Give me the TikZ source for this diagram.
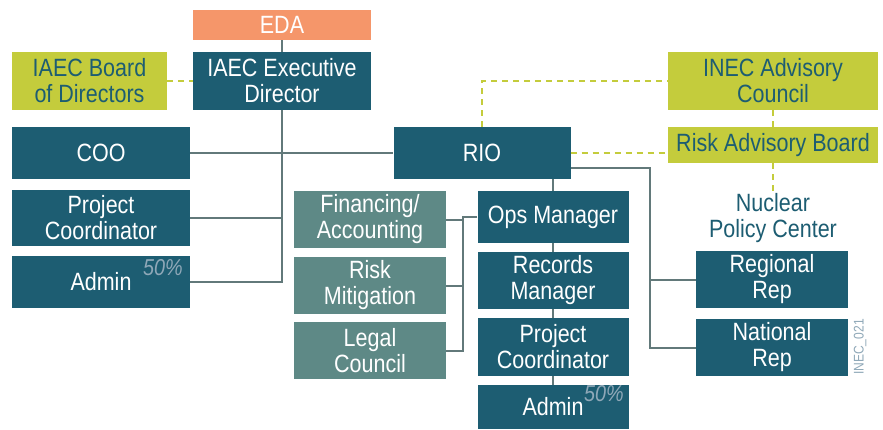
\documentclass[tikz,border=0pt]{standalone}
\usepackage{fontspec}
\setmainfont{Liberation Sans}[FakeStretch=0.86]
\usetikzlibrary{calc}

\definecolor{orgdark}{HTML}{1D5D72}
\definecolor{orggray}{HTML}{5E8986}
\definecolor{orglime}{HTML}{C4CC3C}
\definecolor{orgorange}{HTML}{F5966A}
\definecolor{orgline}{HTML}{62797A}
\definecolor{orgpale}{HTML}{8FA8B8}

\tikzset{
  unit/.style={rectangle, inner sep=0pt, align=center, text=white, font=\fontsize{25}{26}\selectfont},
  darkunit/.style={unit, fill=orgdark},
  grayunit/.style={unit, fill=orggray},
  limeunit/.style={unit, fill=orglime, text=orgdark},
  link/.style={draw=orgline, line width=2pt},
  advise/.style={draw=orglime, line width=1.8pt, dash pattern=on 6pt off 5pt},
  share/.style={font=\itshape\fontsize{23}{23}\selectfont, text=orgpale}
}

\begin{document}
\begin{tikzpicture}[x=1pt, y=-1pt]
        \fill[white] (0, 0) rectangle (883, 428);

        % Executive side
        \node[unit, fill=orgorange, minimum width=178pt, minimum height=30pt] (eda) at (282, 25) {EDA};
        \node[darkunit, minimum width=178pt, minimum height=58pt] (exec) at (282, 81) {IAEC Executive\\Director};
        \node[limeunit, minimum width=155pt, minimum height=58pt] (board) at (89.5, 81) {IAEC Board\\of Directors};
        \node[darkunit, minimum width=178pt, minimum height=52pt] (coo) at (101, 153) {COO};
        \node[darkunit, minimum width=178pt, minimum height=56pt] (pcl) at (101, 218) {Project\\Coordinator};
        \node[darkunit, minimum width=178pt, minimum height=52pt] (adminl) at (101, 282) {Admin};
        \node[share] (sharel) at (163, 268) {50\%};

        % RIO and staff
        \node[darkunit, minimum width=177pt, minimum height=52pt] (rio) at (482, 153) {RIO};
        \node[grayunit, minimum width=152pt, minimum height=57pt] (fin) at (370, 219.5) {Financing/\\Accounting};
        \node[grayunit, minimum width=152pt, minimum height=57pt] (risk) at (370, 285.5) {Risk\\Mitigation};
        \node[grayunit, minimum width=152pt, minimum height=57pt] (legal) at (370, 350.5) {Legal\\Council};
        \node[darkunit, minimum width=151pt, minimum height=52pt] (ops) at (553, 217) {Ops Manager};
        \node[darkunit, minimum width=151pt, minimum height=57pt] (rec) at (553, 280.5) {Records\\Manager};
        \node[darkunit, minimum width=151pt, minimum height=58pt] (pcr) at (553, 347) {Project\\Coordinator};
        \node[darkunit, minimum width=151pt, minimum height=44pt] (adminr) at (553, 407) {Admin};
        \node[share] (sharer) at (604, 394) {50\%};

        % Advisory and policy
        \node[limeunit, minimum width=210pt, minimum height=58pt] (iac) at (773, 81) {INEC Advisory\\Council};
        \node[limeunit, minimum width=210pt, minimum height=36pt] (rab) at (773, 145) {Risk Advisory Board};
        \node[unit, text=orgdark] (npc) at (773, 218) {Nuclear\\Policy Center};
        \node[darkunit, minimum width=152pt, minimum height=57pt] (reg) at (772, 279.5) {Regional\\Rep};
        \node[darkunit, minimum width=152pt, minimum height=57pt] (nat) at (772, 347.5) {National\\Rep};
        \node[rotate=90, text=orgpale, font=\fontsize{14}{14}\selectfont] (tag) at (860, 347) {INEC\_021};

        \coordinate (br) at (463, 217);
        \coordinate (rt) at (650, 168);

        % solid reporting lines
        \draw[link] (eda) -- (exec);
        \draw[link] (exec) -- (exec.south |- adminl) -- (adminl);
        \draw[link] (pcl) -- (pcl -| exec);
        \draw[link] (coo) -- (rio);
        \draw[link] (rio.south -| ops) -- (ops);
        \draw[link] (ops) -- (rec);
        \draw[link] (rec) -- (pcr);
        \draw[link] (pcr) -- (adminr);
        \draw[link] (ops) -- (br) |- (legal);
        \draw[link] (fin) -- (fin -| br);
        \draw[link] (risk) -- (risk -| br);
        \draw[link] (rio.east |- rt) -- (rt) |- (nat);
        \draw[link] (reg) -- (reg -| rt);

        % dashed advisory lines
        \draw[advise] (board) -- (exec);
        \draw[advise] (rio) -- (rio.north |- iac) -- (iac);
        \draw[advise] (rio) -- (rab.west |- rio);
        \draw[advise] (iac) -- (rab);
        \draw[advise] (rab) -- (npc);

        \end{tikzpicture}
\end{document}
